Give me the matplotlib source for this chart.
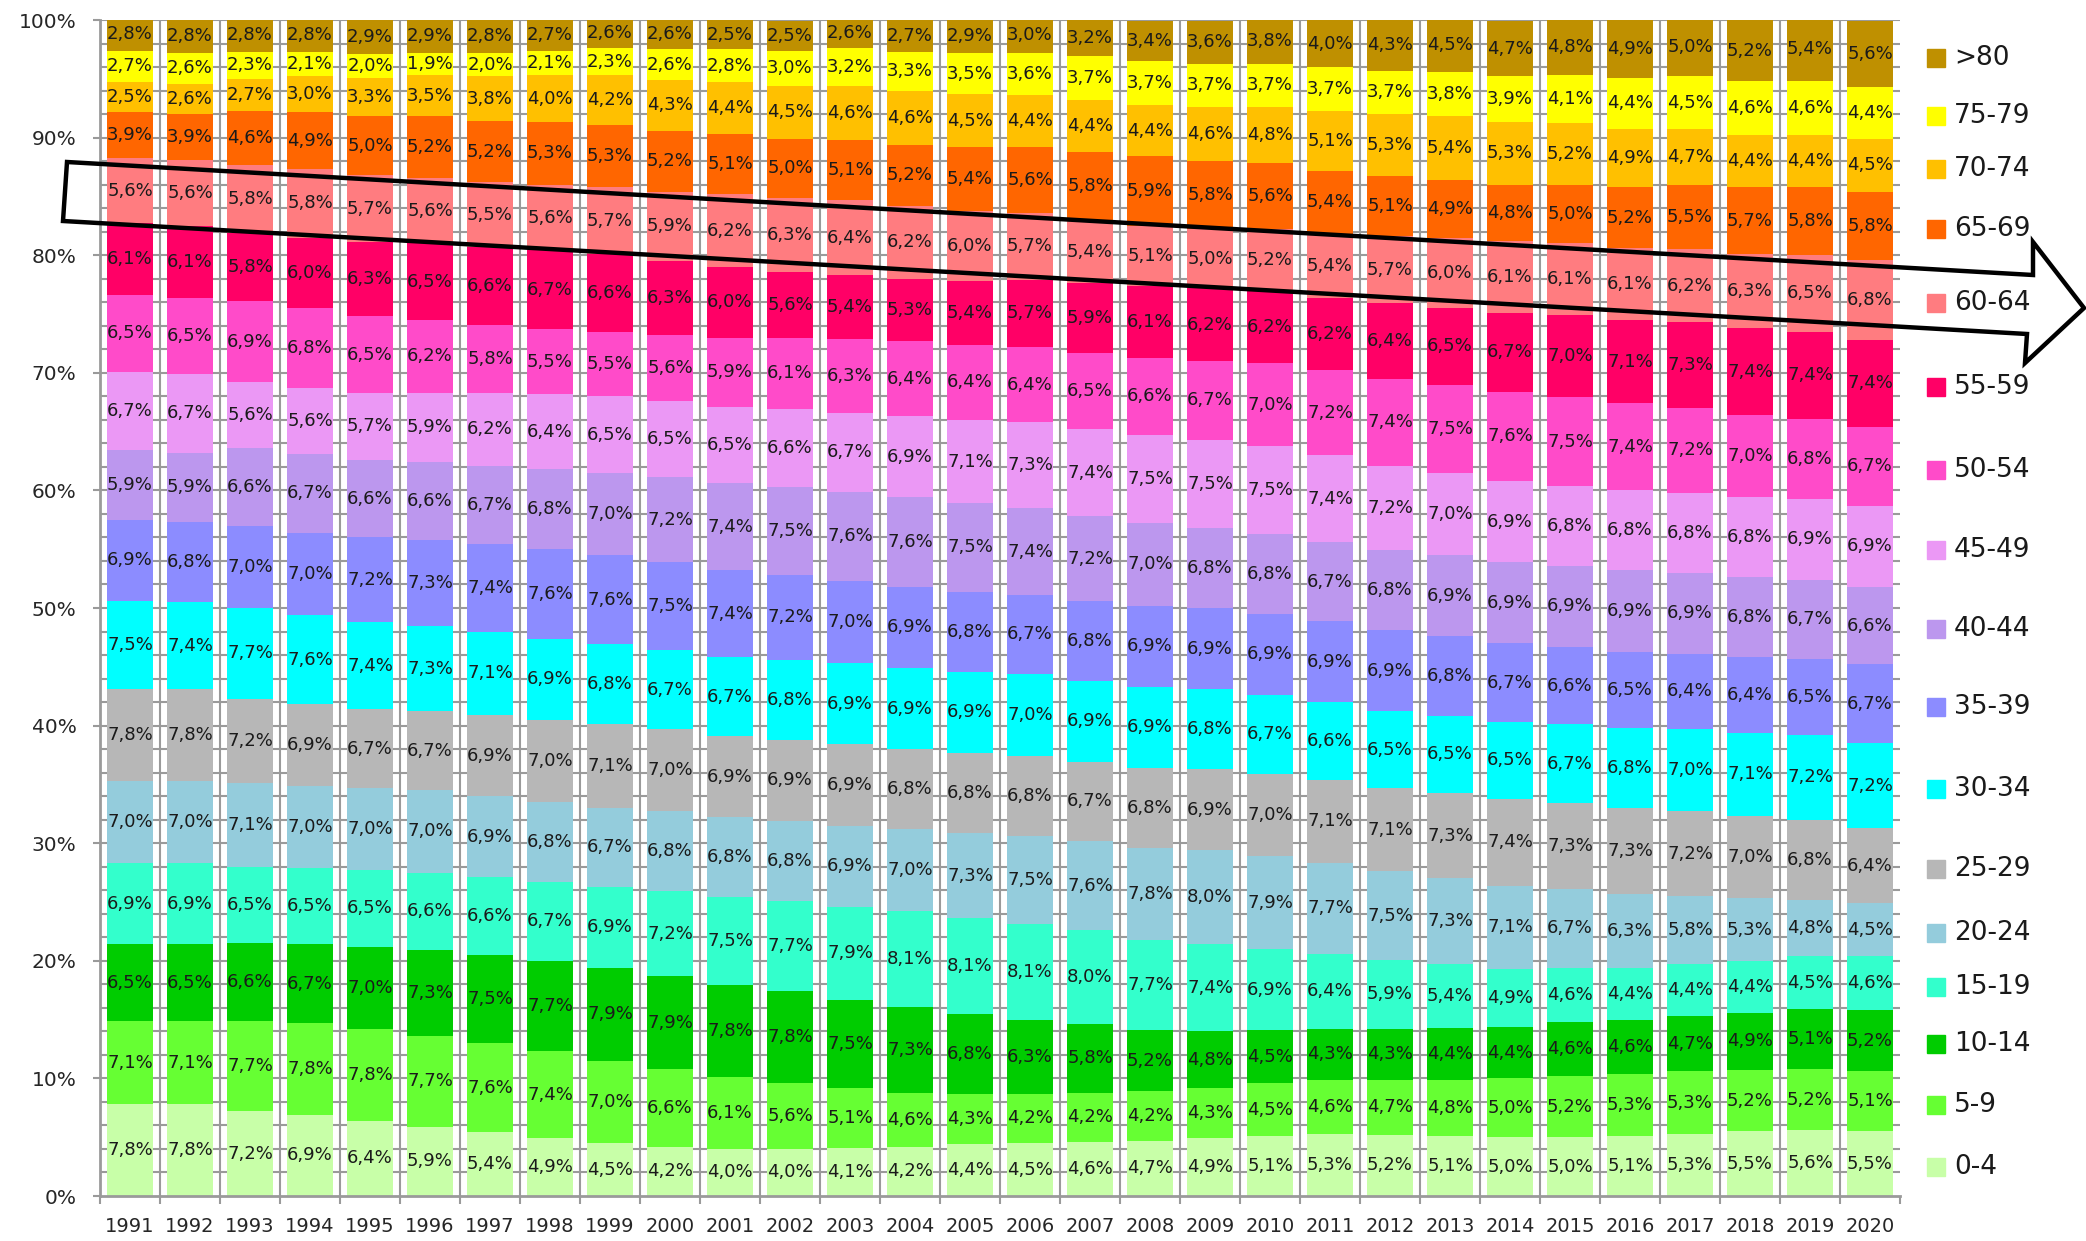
import matplotlib
matplotlib.use("Agg")
import matplotlib.pyplot as plt
import matplotlib.transforms as mtransforms
from matplotlib.patches import Polygon
import numpy as np

plt.rcParams['font.family'] = ['DejaVu Sans']

years = [str(y) for y in range(1991, 2021)]

age_groups = ["0-4", "5-9", "10-14", "15-19", "20-24", "25-29", "30-34", "35-39",
              "40-44", "45-49", "50-54", "55-59", "60-64", "65-69", "70-74", "75-79", ">80"]

colors = ["#C8FFA8", "#66FF33", "#00CC00", "#33FFCC", "#94CCDC", "#B7B7B7", "#00FFFF",
          "#8C8CFF", "#BC97EE", "#EB98F5", "#FF4BC9", "#FF0066", "#FF7C80", "#FF6600",
          "#FFC000", "#FFFF00", "#BF9000"]

# Share of each age group in the population, percent, 1991-2020
a_0_4 = [7.8, 7.8, 7.2, 6.9, 6.4, 5.9, 5.4, 4.9, 4.5, 4.2,
         4.0, 4.0, 4.1, 4.2, 4.4, 4.5, 4.6, 4.7, 4.9, 5.1,
         5.3, 5.2, 5.1, 5.0, 5.0, 5.1, 5.3, 5.5, 5.6, 5.5]
a_5_9 = [7.1, 7.1, 7.7, 7.8, 7.8, 7.7, 7.6, 7.4, 7.0, 6.6,
         6.1, 5.6, 5.1, 4.6, 4.3, 4.2, 4.2, 4.2, 4.3, 4.5,
         4.6, 4.7, 4.8, 5.0, 5.2, 5.3, 5.3, 5.2, 5.2, 5.1]
a_10_14 = [6.5, 6.5, 6.6, 6.7, 7.0, 7.3, 7.5, 7.7, 7.9, 7.9,
           7.8, 7.8, 7.5, 7.3, 6.8, 6.3, 5.8, 5.2, 4.8, 4.5,
           4.3, 4.3, 4.4, 4.4, 4.6, 4.6, 4.7, 4.9, 5.1, 5.2]
a_15_19 = [6.9, 6.9, 6.5, 6.5, 6.5, 6.6, 6.6, 6.7, 6.9, 7.2,
           7.5, 7.7, 7.9, 8.1, 8.1, 8.1, 8.0, 7.7, 7.4, 6.9,
           6.4, 5.9, 5.4, 4.9, 4.6, 4.4, 4.4, 4.4, 4.5, 4.6]
a_20_24 = [7.0, 7.0, 7.1, 7.0, 7.0, 7.0, 6.9, 6.8, 6.7, 6.8,
           6.8, 6.8, 6.9, 7.0, 7.3, 7.5, 7.6, 7.8, 8.0, 7.9,
           7.7, 7.5, 7.3, 7.1, 6.7, 6.3, 5.8, 5.3, 4.8, 4.5]
a_25_29 = [7.8, 7.8, 7.2, 6.9, 6.7, 6.7, 6.9, 7.0, 7.1, 7.0,
           6.9, 6.9, 6.9, 6.8, 6.8, 6.8, 6.7, 6.8, 6.9, 7.0,
           7.1, 7.1, 7.3, 7.4, 7.3, 7.3, 7.2, 7.0, 6.8, 6.4]
a_30_34 = [7.5, 7.4, 7.7, 7.6, 7.4, 7.3, 7.1, 6.9, 6.8, 6.7,
           6.7, 6.8, 6.9, 6.9, 6.9, 7.0, 6.9, 6.9, 6.8, 6.7,
           6.6, 6.5, 6.5, 6.5, 6.7, 6.8, 7.0, 7.1, 7.2, 7.2]
a_35_39 = [6.9, 6.8, 7.0, 7.0, 7.2, 7.3, 7.4, 7.6, 7.6, 7.5,
           7.4, 7.2, 7.0, 6.9, 6.8, 6.7, 6.8, 6.9, 6.9, 6.9,
           6.9, 6.9, 6.8, 6.7, 6.6, 6.5, 6.4, 6.4, 6.5, 6.7]
a_40_44 = [5.9, 5.9, 6.6, 6.7, 6.6, 6.6, 6.7, 6.8, 7.0, 7.2,
           7.4, 7.5, 7.6, 7.6, 7.5, 7.4, 7.2, 7.0, 6.8, 6.8,
           6.7, 6.8, 6.9, 6.9, 6.9, 6.9, 6.9, 6.8, 6.7, 6.6]
a_45_49 = [6.7, 6.7, 5.6, 5.6, 5.7, 5.9, 6.2, 6.4, 6.5, 6.5,
           6.5, 6.6, 6.7, 6.9, 7.1, 7.3, 7.4, 7.5, 7.5, 7.5,
           7.4, 7.2, 7.0, 6.9, 6.8, 6.8, 6.8, 6.8, 6.9, 6.9]
a_50_54 = [6.5, 6.5, 6.9, 6.8, 6.5, 6.2, 5.8, 5.5, 5.5, 5.6,
           5.9, 6.1, 6.3, 6.4, 6.4, 6.4, 6.5, 6.6, 6.7, 7.0,
           7.2, 7.4, 7.5, 7.6, 7.5, 7.4, 7.2, 7.0, 6.8, 6.7]
a_55_59 = [6.1, 6.1, 5.8, 6.0, 6.3, 6.5, 6.6, 6.7, 6.6, 6.3,
           6.0, 5.6, 5.4, 5.3, 5.4, 5.7, 5.9, 6.1, 6.2, 6.2,
           6.2, 6.4, 6.5, 6.7, 7.0, 7.1, 7.3, 7.4, 7.4, 7.4]
a_60_64 = [5.6, 5.6, 5.8, 5.8, 5.7, 5.6, 5.5, 5.6, 5.7, 5.9,
           6.2, 6.3, 6.4, 6.2, 6.0, 5.7, 5.4, 5.1, 5.0, 5.2,
           5.4, 5.7, 6.0, 6.1, 6.1, 6.1, 6.2, 6.3, 6.5, 6.8]
a_65_69 = [3.9, 3.9, 4.6, 4.9, 5.0, 5.2, 5.2, 5.3, 5.3, 5.2,
           5.1, 5.0, 5.1, 5.2, 5.4, 5.6, 5.8, 5.9, 5.8, 5.6,
           5.4, 5.1, 4.9, 4.8, 5.0, 5.2, 5.5, 5.7, 5.8, 5.8]
a_70_74 = [2.5, 2.6, 2.7, 3.0, 3.3, 3.5, 3.8, 4.0, 4.2, 4.3,
           4.4, 4.5, 4.6, 4.6, 4.5, 4.4, 4.4, 4.4, 4.6, 4.8,
           5.1, 5.3, 5.4, 5.3, 5.2, 4.9, 4.7, 4.4, 4.4, 4.5]
a_75_79 = [2.7, 2.6, 2.3, 2.1, 2.0, 1.9, 2.0, 2.1, 2.3, 2.6,
           2.8, 3.0, 3.2, 3.3, 3.5, 3.6, 3.7, 3.7, 3.7, 3.7,
           3.7, 3.7, 3.8, 3.9, 4.1, 4.4, 4.5, 4.6, 4.6, 4.4]
a_80_plus = [2.8, 2.8, 2.8, 2.8, 2.9, 2.9, 2.8, 2.7, 2.6, 2.6,
             2.5, 2.5, 2.6, 2.7, 2.9, 3.0, 3.2, 3.4, 3.6, 3.8,
             4.0, 4.3, 4.5, 4.7, 4.8, 4.9, 5.0, 5.2, 5.4, 5.6]

series = [a_0_4, a_5_9, a_10_14, a_15_19, a_20_24, a_25_29, a_30_34, a_35_39,
          a_40_44, a_45_49, a_50_54, a_55_59, a_60_64, a_65_69, a_70_74, a_75_79, a_80_plus]

W, H = 2086, 1241
fig = plt.figure(figsize=(W / 100, H / 100), dpi=100)
ax = fig.add_axes([100 / W, 45 / H, 1800 / W, 1176 / H])

grid_col = "#9A9A9A"
x = np.arange(len(years))
ax.set_xlim(-0.5, len(years) - 0.5)
ax.set_ylim(0, 100)

# background grid: every 2 % horizontally, category boundaries vertically
for yv in range(2, 101, 2):
    ax.axhline(yv, color=grid_col, lw=1.5, zorder=0)
for xb in np.arange(len(years)) + 0.5:
    if xb < len(years) - 0.5:
        ax.axvline(xb, color=grid_col, lw=1.5, zorder=0)

bottom = np.zeros(len(years))
for name, vals, col in zip(age_groups, series, colors):
    vals = np.array(vals)
    ax.bar(x, vals, bottom=bottom, width=0.77, color=col, edgecolor="none", zorder=2)
    for xi, b, v in zip(x, bottom, vals):
        ax.text(xi, b + v / 2, f"{v:.1f}".replace(".", ",") + "%", ha="center", va="center",
                fontsize=13, color="#1a1a1a", zorder=3)
    bottom = bottom + vals

# series names beside the last column
trans = mtransforms.blended_transform_factory(ax.transAxes, ax.transData)
last = np.array([s[-1] for s in series])
tops = np.cumsum(last)
mids = tops - last / 2
for name, col, m in zip(age_groups, colors, mids):
    ax.plot([1.02], [m - 0.3], marker="s", markersize=13, color=col, transform=trans,
            clip_on=False, linestyle="none")
    ax.text(1.03, m - 0.3, name, transform=trans, ha="left", va="center", fontsize=19,
            color="#1a1a1a")

# axes styling
for s in ["top", "right"]:
    ax.spines[s].set_visible(False)
for s in ["left", "bottom"]:
    ax.spines[s].set_color(grid_col)
    ax.spines[s].set_linewidth(2)
    ax.spines[s].set_zorder(4)

ax.set_yticks(range(0, 101, 10))
ax.set_yticklabels([f"{v}%" for v in range(0, 101, 10)], fontsize=14.5, color="#262626")
ax.tick_params(axis="y", which="major", length=5, width=1.5, color=grid_col, pad=12)

ax.set_xticks(x)
ax.set_xticklabels(years, fontsize=14, color="#262626")
ax.set_xticks(np.arange(len(years) + 1) - 0.5, minor=True)
ax.tick_params(axis="x", which="major", length=0, pad=15)
ax.tick_params(axis="x", which="minor", length=6, width=1.5, color=grid_col)

# hollow arrow across the 60-64 band
pts_px = [(67, 162), (2033, 275), (2033, 242), (2084, 308), (2025, 363), (2027, 334), (63, 221)]
pts = [(px / W, 1 - py / H) for px, py in pts_px]
arrow = Polygon(pts, closed=True, fill=False, edgecolor="black", linewidth=3.2,
                joinstyle="miter", transform=fig.transFigure, zorder=10)
fig.add_artist(arrow)

fig.savefig("out.png", dpi=100)
